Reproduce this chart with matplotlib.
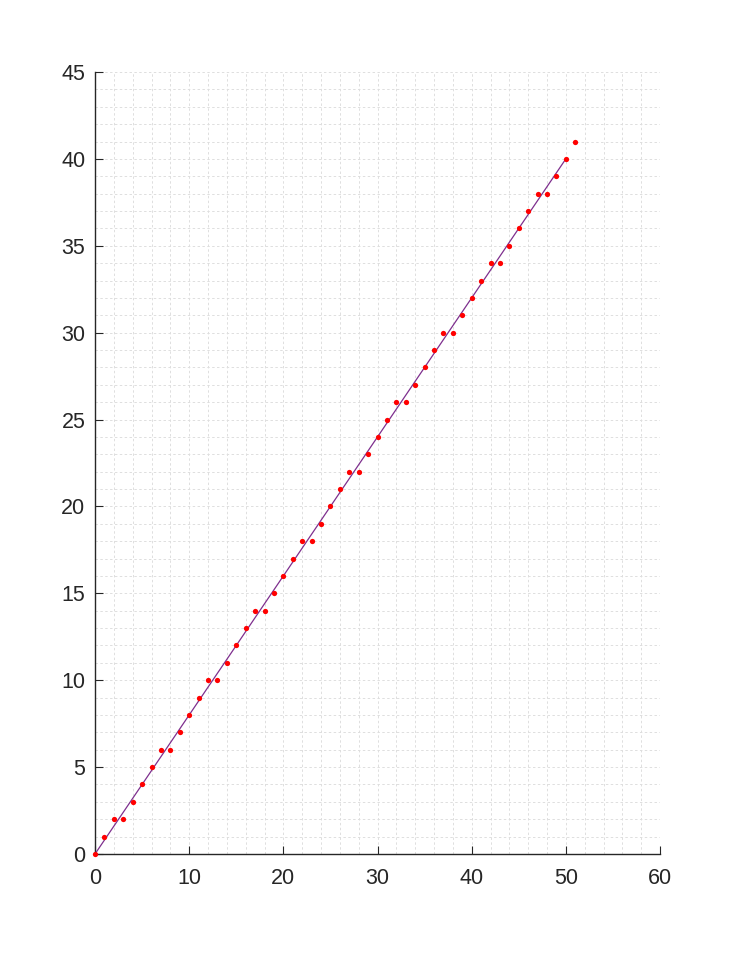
import matplotlib.pyplot as plt
import numpy as np
from matplotlib.ticker import MultipleLocator

plt.rcParams['font.family'] = ['Liberation Sans', 'DejaVu Sans']

x_pts = [0, 1, 2, 3, 4, 5, 6, 7, 8, 9, 10, 11, 12, 13, 14, 15, 16, 17, 18, 19,
         20, 21, 22, 23, 24, 25, 26, 27, 28, 29, 30, 31, 32, 33, 34, 35, 36, 37,
         38, 39, 40, 41, 42, 43, 44, 45, 46, 47, 48, 49, 50, 51]
y_pts = [0, 1, 2, 2, 3, 4, 5, 6, 6, 7, 8, 9, 10, 10, 11, 12, 13, 14, 14, 15,
         16, 17, 18, 18, 19, 20, 21, 22, 22, 23, 24, 25, 26, 26, 27, 28, 29, 30,
         30, 31, 32, 33, 34, 34, 35, 36, 37, 38, 38, 39, 40, 41]
line_x = [0, 50]
line_y = [0, 40]

fig = plt.figure(figsize=(7.31, 9.6), dpi=100)
ax = fig.add_axes([95/731, 1 - 854/960, (660-95)/731, (854-72)/960])

ax.plot(line_x, line_y, color='#7E2F8E', lw=0.9, zorder=3)
ax.plot(x_pts, y_pts, 'o', color='#FF0000', ms=3.8, mec='none', zorder=4,
        clip_on=False)

ax.set_xlim(0, 60)
ax.set_ylim(0, 45)
ax.xaxis.set_major_locator(MultipleLocator(10))
ax.xaxis.set_minor_locator(MultipleLocator(2))
ax.yaxis.set_major_locator(MultipleLocator(5))
ax.yaxis.set_minor_locator(MultipleLocator(1))

ax.grid(which='both', color='#dedede', ls=(0, (2.5, 2.5)), lw=0.7)
ax.set_axisbelow(True)
for s in ['top', 'right']:
    ax.spines[s].set_visible(False)
for s in ['left', 'bottom']:
    ax.spines[s].set_color('#262626')
    ax.spines[s].set_linewidth(1.0)
ax.tick_params(which='major', direction='in', length=6, colors='#262626',
               labelsize=15.5)
ax.tick_params(axis='x', pad=10)
ax.tick_params(axis='y', pad=7)
ax.tick_params(which='minor', length=0)

plt.savefig('out.png', dpi=100)
